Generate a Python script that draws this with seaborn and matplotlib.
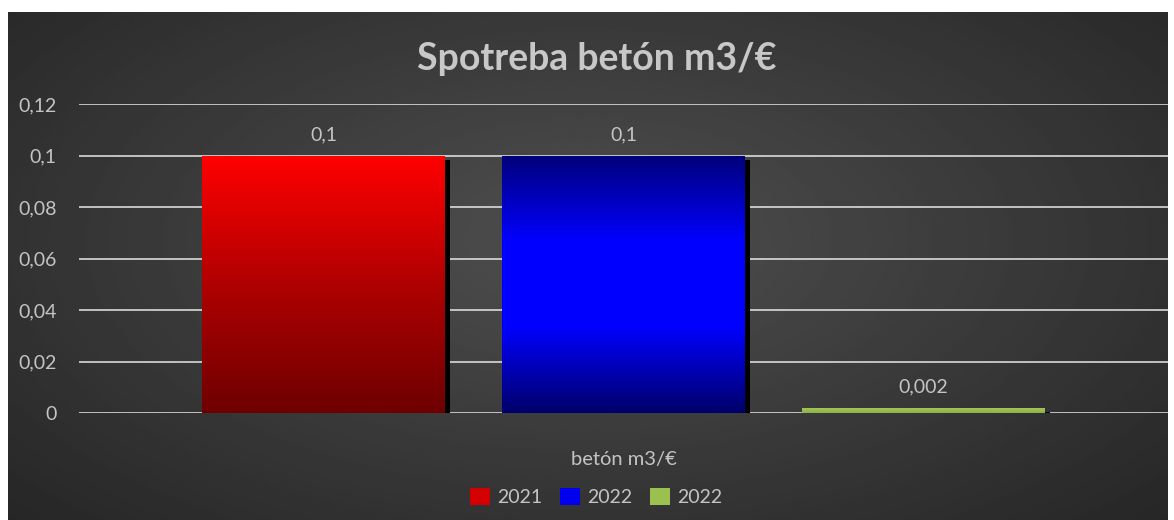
import numpy as np
import pandas as pd
import seaborn as sns
import matplotlib.pyplot as plt
import matplotlib.patheffects as pe
from matplotlib.colors import LinearSegmentedColormap
from matplotlib.patches import Rectangle

# data
category = "betón m3/€"
series_keys = ["s2021", "s2022a", "s2022b"]
series_labels = ["2021", "2022", "2022"]
values = [0.1, 0.1, 0.002]
title = "Spotreba betón m3/€"
y_ticks = [0, 0.02, 0.04, 0.06, 0.08, 0.1, 0.12]

bar_colors = ["#e00000", "#0000e0", "#9bbb59"]
gradients = [
    ["#6e0000", "#b00000", "#ff0000"],             # bottom -> top
    ["#00006a", "#0000ff", "#0000ff", "#00007a"],
    ["#8fb04a", "#a6c85a"],
]
legend_colors = ["#d40000", "#0000ee", "#9bc04f"]

def comma(v):
    return f"{v:g}".replace(".", ",")

sns.set_theme(style="dark")
plt.rcParams["font.family"] = ["Lato", "DejaVu Sans"]
txt = "#c4c4c4"
fs = 14

fig = plt.figure(figsize=(11.74, 5.2), dpi=100, facecolor="white")

# dark radial background
bg = fig.add_axes([8 / 1174, 0, 1160 / 1174, 508 / 520])
yy, xx = np.mgrid[0:1:200j, 0:1:400j]
r = np.sqrt(((xx - 0.5) / 0.7) ** 2 + ((yy - 0.45) / 0.8) ** 2)
shade = np.clip(0.31 - 0.16 * r, 0.14, 0.31)
bg.imshow(shade, cmap="gray", vmin=0, vmax=1, aspect="auto", extent=(0, 1, 0, 1))
bg.set_axis_off()

ax = fig.add_axes([79 / 1174, 107 / 520, 1089 / 1174, 309 / 520])
ax.set_facecolor("none")

df = pd.DataFrame({"cat": [category] * 3, "series": series_keys, "value": values})
sns.barplot(data=df, x="cat", y="value", hue="series", hue_order=series_keys,
            palette=bar_colors, width=0.826, gap=0.19, ax=ax, legend=False,
            edgecolor="none", linewidth=0, zorder=3)

ax.set_xlim(-0.5, 0.5)
ax.set_ylim(0, 0.1201)

for patch, grad in zip(ax.patches, gradients):
    patch.set_path_effects([pe.SimplePatchShadow(offset=(3.5, -3), shadow_rgbFace="black", alpha=1.0), pe.Normal()])
    x0, y0 = patch.get_x(), patch.get_y()
    w, h = patch.get_width(), patch.get_height()
    cmap = LinearSegmentedColormap.from_list("g", grad)
    im = ax.imshow(np.linspace(0, 1, 256).reshape(-1, 1), cmap=cmap, origin="lower",
                   extent=(x0, x0 + w, y0, y0 + h), aspect="auto", zorder=4)
    im.set_clip_path(patch)

ax.set_xlim(-0.5, 0.5)
ax.set_ylim(0, 0.1201)

for cont in ax.containers:
    ax.bar_label(cont, labels=[comma(v) for v in cont.datavalues], padding=9,
                 color=txt, fontsize=fs, zorder=5)

ax.set_yticks(y_ticks)
ax.set_yticklabels([comma(v) for v in y_ticks], color=txt, fontsize=fs)
ax.yaxis.grid(True, color="#e8e8e8", linewidth=1.1)
ax.xaxis.grid(False)
ax.set_axisbelow(True)
ax.tick_params(axis="y", pad=16, length=0)
ax.tick_params(axis="x", pad=27, length=0, labelsize=fs + 0.5, labelcolor=txt)
ax.set_xlabel("")
ax.set_ylabel("")
for s in ax.spines.values():
    s.set_visible(False)

fig.suptitle(title, x=0.508, y=1 - 59 / 520, va="center", fontsize=27,
             fontweight="bold", color="#c8c8c8")

handles = [Rectangle((0, 0), 1, 1, facecolor=c, edgecolor="none") for c in legend_colors]
fig.legend(handles, series_labels, loc="center", bbox_to_anchor=(0.508, 1 - 497 / 520),
           ncol=3, frameon=False, fontsize=fs, labelcolor=txt, handlelength=1.0,
           handleheight=1.0, handletextpad=0.4, columnspacing=0.9)

fig.savefig("out.png", dpi=100, facecolor="white")
